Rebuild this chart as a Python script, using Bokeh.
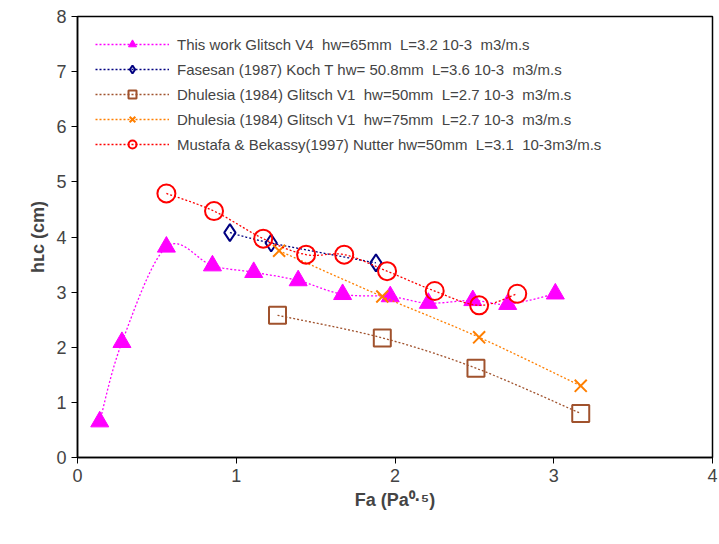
import numpy as np
from bokeh.plotting import figure
from bokeh.models import Legend, LegendItem, FixedTicker, Range1d
from bokeh.embed import file_html
from bokeh.resources import INLINE

tw_x = [0.14, 0.28, 0.56, 0.85, 1.11, 1.39, 1.67, 1.97, 2.21, 2.49, 2.71, 3.01]
tw_y = [0.65, 2.09, 3.82, 3.48, 3.36, 3.21, 2.96, 2.92, 2.80, 2.85, 2.78, 2.97]
fa_x = [0.96, 1.22, 1.88]
fa_y = [4.08, 3.89, 3.53]
d1_x = [1.26, 1.92, 2.51, 3.17]
d1_y = [2.58, 2.17, 1.62, 0.80]
d2_x = [1.27, 1.92, 2.53, 3.17]
d2_y = [3.75, 2.92, 2.18, 1.30]
mb_x = [0.56, 0.86, 1.17, 1.44, 1.68, 1.95, 2.25, 2.53, 2.77]
mb_y = [4.79, 4.47, 3.97, 3.68, 3.68, 3.38, 3.02, 2.76, 2.97]

labels = [
    "This work Glitsch V4  hw=65mm  L=3.2 10-3  m3/m.s",
    "Fasesan (1987) Koch T hw= 50.8mm  L=3.6 10-3  m3/m.s",
    "Dhulesia (1984) Glitsch V1  hw=50mm  L=2.7 10-3  m3/m.s",
    "Dhulesia (1984) Glitsch V1  hw=75mm  L=2.7 10-3  m3/m.s",
    "Mustafa & Bekassy(1997) Nutter hw=50mm  L=3.1  10-3m3/m.s",
]

def smooth(xs, ys, n=16):
    x = np.array(xs, float); y = np.array(ys, float)
    px = np.concatenate([[x[0]], x, [x[-1]]]); py = np.concatenate([[y[0]], y, [y[-1]]])
    ox, oy = [], []
    for i in range(1, len(px) - 2):
        for t in np.linspace(0, 1, n, endpoint=False):
            t2, t3 = t*t, t*t*t
            def cr(p):
                return 0.5*((2*p[i]) + (-p[i-1]+p[i+1])*t + (2*p[i-1]-5*p[i]+4*p[i+1]-p[i+2])*t2 + (-p[i-1]+3*p[i]-3*p[i+1]+p[i+2])*t3)
            ox.append(cr(px)); oy.append(cr(py))
    ox.append(x[-1]); oy.append(y[-1])
    return ox, oy

p = figure(width=719, height=536, output_backend="svg", toolbar_location=None,
           x_range=Range1d(0, 4), y_range=Range1d(0, 8),
           min_border_left=77, min_border_bottom=79, min_border_top=16, min_border_right=7)
p.grid.visible = False
p.outline_line_color = "black"
p.outline_line_width = 1.5
p.background_fill_color = "white"
p.border_fill_color = "white"

items = []
specs = [
    (tw_x, tw_y, "#FF00FF", "triangle"),
    (fa_x, fa_y, "#000080", "diamond"),
    (d1_x, d1_y, "#A0522D", "square"),
    (d2_x, d2_y, "#FF7F00", "x"),
    (mb_x, mb_y, "#FF0000", "circle"),
]
for (xs, ys, col, mk), lab in zip(specs, labels):
    sx, sy = smooth(xs, ys)
    r1 = p.line(sx, sy, line_color=col, line_dash="2 2", line_width=1.3)
    if mk == "triangle":
        r2 = p.scatter(xs, ys, marker="triangle", size=18, fill_color=col, line_color=col)
    elif mk == "diamond":
        r2 = p.scatter(xs, ys, marker="diamond", size=17, fill_color=None, line_color=col, line_width=2)
    elif mk == "square":
        r2 = p.scatter(xs, ys, marker="square", size=17, fill_color=None, line_color=col, line_width=2)
    elif mk == "x":
        r2 = p.scatter(xs, ys, marker="x", size=17, line_color=col, line_width=2)
    else:
        r2 = p.scatter(xs, ys, marker="circle", size=18, fill_color=None, line_color=col, line_width=2)
    items.append(LegendItem(label=lab, renderers=[r1, r2]))

leg = Legend(items=items, location="top_left", border_line_color=None,
             background_fill_alpha=0, label_text_font="Liberation Sans",
             label_text_font_size="15px", spacing=5, glyph_width=74, glyph_height=20,
             label_standoff=8, padding=4, margin=18)
p.add_layout(leg)

for ax in (p.xaxis, p.yaxis):
    ax.major_label_text_font = "Liberation Sans"
    ax.major_label_text_font_size = "18px"
    ax.axis_label_text_font = "Liberation Sans"
    ax.axis_label_text_font_size = "18px"
    ax.axis_label_text_font_style = "bold"
    ax.minor_tick_line_color = None
    ax.major_tick_out = 6
    ax.major_tick_in = 0
    ax.axis_line_width = 1.5
p.xaxis.ticker = FixedTicker(ticks=[0, 1, 2, 3, 4])
p.yaxis.ticker = FixedTicker(ticks=list(range(9)))
p.xaxis.axis_label = "Fa (Pa⁰·⁵)"
p.yaxis.axis_label = "hʟc (cm)"

open("out.html", "w").write(file_html(p, INLINE))
